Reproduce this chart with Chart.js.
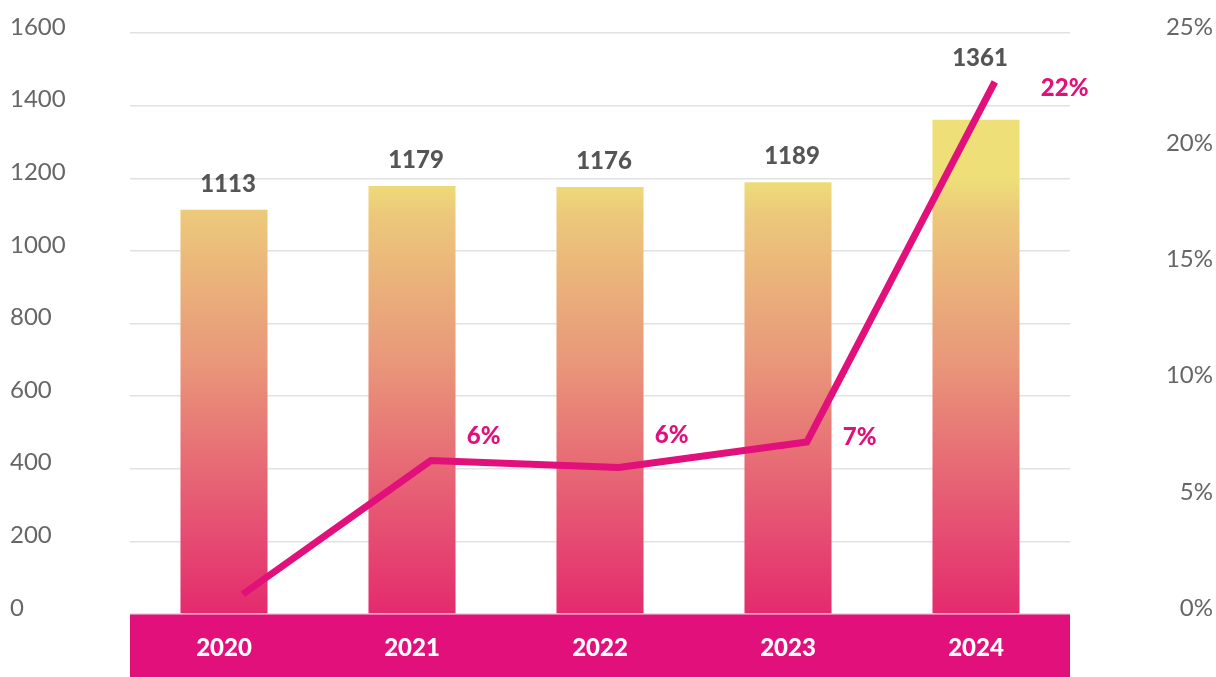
<!DOCTYPE html>
<html>
<head>
<meta charset="utf-8">
<script src="https://cdn.jsdelivr.net/npm/chart.js@4/dist/chart.umd.min.js"></script>
<style>
  html, body { margin: 0; padding: 0; background: #fff; }
  #wrap { width: 1216px; height: 677px; }
</style>
</head>
<body>
<div id="wrap"><canvas id="chart"></canvas></div>
<script>
// chart data
const years = ['2020', '2021', '2022', '2023', '2024']
const totals = [1113, 1179, 1176, 1189, 1361]
const growth = [0.85, 6.6, 6.3, 7.4, 22.9]
const growthLabels = ['', '6%', '6%', '7%', '22%']

const PINK = '#E1107A'
const FONT = 'Lato, "Open Sans", sans-serif'

// vertical gradient for the bars, tied to the value scale
function barGradient(context) {
    const chart = context.chart
    const { chartArea } = chart
    if (!chartArea) return '#EBA07A'
    const y = chart.scales.y
    const top = y.getPixelForValue(1200)
    const g = chart.ctx.createLinearGradient(0, top, 0, chartArea.bottom)
    g.addColorStop(0, '#EEDF78')
    g.addColorStop(0.083, '#ECC87A')
    g.addColorStop(0.417, '#E9987A')
    g.addColorStop(1, '#E42A6E')
    return g
}

// pink band behind the year labels
const bandPlugin = {
    id: 'band',
    beforeDraw(chart) {
        const { ctx, chartArea } = chart
        const x = chart.scales.x
        ctx.save()
        ctx.fillStyle = PINK
        ctx.fillRect(chartArea.left, x.top, chartArea.right - chartArea.left, x.bottom - x.top)
        ctx.restore()
    }
}

// value labels above bars and beside line points
const labelPlugin = {
    id: 'valueLabels',
    afterDatasetsDraw(chart, args, opts) {
        const { ctx } = chart
        const bars = chart.getDatasetMeta(0).data
        const points = chart.getDatasetMeta(1).data
        ctx.save()
        ctx.textBaseline = 'middle'

        ctx.font = '900 24px ' + FONT
        ctx.fillStyle = '#555'
        ctx.textAlign = 'center'
        bars.forEach((bar, i) => {
            let y = bar.y - 26
            if (points[i]) y = Math.min(y, points[i].y - 24)
            ctx.fillText(String(totals[i]), bar.x + 4, y)
        })

        ctx.font = '900 24px ' + FONT
        ctx.fillStyle = PINK
        ctx.textAlign = 'left'
        points.forEach((pt, i) => {
            if (!growthLabels[i]) return
            const [dx, dy] = opts.offsets[i]
            ctx.fillText(growthLabels[i], pt.x + dx, pt.y + dy)
        })
        ctx.restore()
    }
}

const ctx = document.getElementById('chart').getContext('2d')
const chart = new Chart(ctx, {
    data: {
        labels: years,
        datasets: [
            {
                type: 'bar',
                data: totals,
                backgroundColor: barGradient,
                borderWidth: 0,
                grouped: false,
                categoryPercentage: 1,
                barPercentage: 0.463,
                yAxisID: 'y',
                xAxisID: 'x',
                order: 2
            },
            {
                type: 'line',
                data: growth.map((v, i) => ({ x: i, y: v })),
                borderColor: PINK,
                borderWidth: 7,
                borderCapStyle: 'butt',
                borderJoinStyle: 'miter',
                pointRadius: 0,
                tension: 0,
                yAxisID: 'y1',
                xAxisID: 'x2',
                order: 1
            }
        ]
    },
    options: {
        responsive: true,
        maintainAspectRatio: false,
        animation: false,
        layout: {
            padding: { left: 10, right: 3, top: 33, bottom: 0 }
        },
        plugins: {
            legend: { display: false },
            tooltip: { enabled: false },
            valueLabels: {
                offsets: [[0, 0], [36, -24], [36, -32], [36, -5], [46, 6]]
            }
        },
        scales: {
            x: {
                type: 'category',
                offset: true,
                grid: { display: false, drawTicks: false },
                border: { display: false },
                ticks: {
                    color: '#fff',
                    font: { family: FONT, size: 24, weight: '900' },
                    padding: 20
                },
                afterFit(scale) { scale.height = 63 }
            },
            x2: {
                type: 'linear',
                display: false,
                min: -0.6,
                max: 4.4
            },
            y: {
                position: 'left',
                min: 0,
                max: 1600,
                grid: { color: '#e2e2e2', lineWidth: 1.5, drawTicks: false },
                border: { display: false },
                ticks: {
                    stepSize: 200,
                    color: '#666',
                    font: { family: FONT, size: 24 },
                    crossAlign: 'far',
                    labelOffset: -6,
                    padding: 0,
                    callback: v => String(v)
                },
                afterFit(scale) { scale.width = 120 }
            },
            y1: {
                position: 'right',
                min: 0,
                max: 25,
                grid: { display: false, drawTicks: false },
                border: { display: false },
                ticks: {
                    stepSize: 5,
                    color: '#666',
                    font: { family: FONT, size: 24 },
                    crossAlign: 'far',
                    labelOffset: -6,
                    padding: 0,
                    callback: v => v + '%'
                },
                afterFit(scale) { scale.width = 143 }
            }
        }
    },
    plugins: [bandPlugin, labelPlugin]
})
</script>
</body>
</html>
